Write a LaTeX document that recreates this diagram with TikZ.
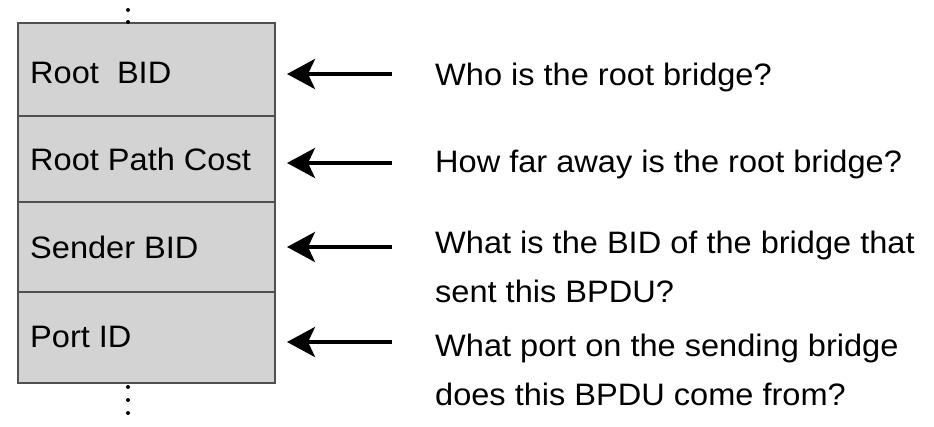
\documentclass[tikz,border=0pt]{standalone}
\usepackage{fontspec}
\setmainfont{Liberation Sans}[FakeStretch=1.05]
\usetikzlibrary{arrows.meta}
\definecolor{boxgray}{HTML}{D3D3D3}
\definecolor{edgegray}{HTML}{505050}
\begin{document}
\begin{tikzpicture}[x=1pt,y=-1pt,
  field/.style={draw=edgegray,line width=1.5pt,fill=boxgray},
  lbl/.style={anchor=base west,inner sep=0pt,font=\fontsize{31}{49}\selectfont},
  qtext/.style={anchor=base west,inner sep=0pt,align=left,font=\fontsize{31}{49}\selectfont},
  ptr/.style={line width=4pt,-{Stealth[length=28pt,width=30pt,inset=7pt]}},
  dot/.style={fill=black,circle,inner sep=0pt,minimum size=4pt}]
\useasboundingbox (0,0) rectangle (934,426);
% fields
\draw[field] (18,23) rectangle (275,116);
\draw[field] (18,116) rectangle (275,202);
\draw[field] (18,202) rectangle (275,292);
\draw[field] (18,292) rectangle (275,383);
% dots
\node[dot] (t1) at (128,10) {};
\node[dot] (t2) at (128,22) {};
\node[dot] (b1) at (128,387) {};
\node[dot] (b2) at (128,400) {};
\node[dot] (b3) at (128,413) {};
% labels
\node[lbl] (l1) at (30,83) {Root\ \ BID};
\node[lbl] (l2) at (30,170) {Root Path Cost};
\node[lbl] (l3) at (30,258) {Sender BID};
\node[lbl] (l4) at (30,347) {Port ID};
% questions (base anchor = baseline of last line)
\node[qtext] (q1) at (435,85) {Who is the root bridge?};
\node[qtext] (q2) at (435,172) {How far away is the root bridge?};
\node[qtext] (q3) at (435,302) {What is the BID of the bridge that\\sent this BPDU?};
\node[qtext] (q4) at (435,405) {What port on the sending bridge\\does this BPDU come from?};
% arrows
\coordinate (s1) at (392,74);  \coordinate (e1) at (287,74);
\coordinate (s2) at (392,163); \coordinate (e2) at (287,163);
\coordinate (s3) at (392,247); \coordinate (e3) at (287,247);
\coordinate (s4) at (392,342); \coordinate (e4) at (287,342);
\draw[ptr] (s1) -- (e1);
\draw[ptr] (s2) -- (e2);
\draw[ptr] (s3) -- (e3);
\draw[ptr] (s4) -- (e4);
\end{tikzpicture}
\end{document}
